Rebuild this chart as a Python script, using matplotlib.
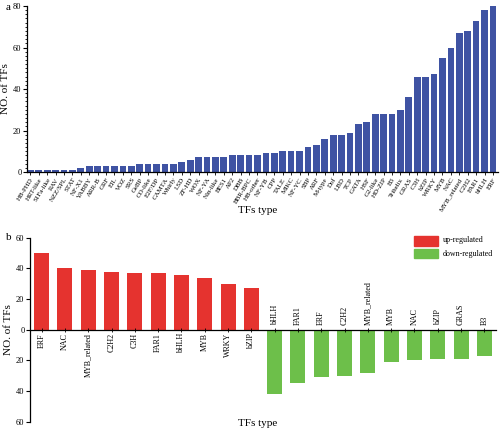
import matplotlib
matplotlib.use("Agg")
import matplotlib.pyplot as plt
from matplotlib.ticker import MultipleLocator, FuncFormatter
from matplotlib.patches import Rectangle

plt.rcParams["font.family"] = ["Liberation Serif", "DejaVu Serif"]

# panel a: number of TFs per family
tf_families = [
    "HB-PHD", "HRT-like", "S1Fa-like", "RAV", "NZZ/SPL", "STAT", "NF-X1", "YABBY",
    "ARR-B", "GRF", "EIL", "VOZ", "SRS", "GeBP", "CO-like", "E2F/DP", "CAMTA",
    "Whirly", "LSD", "ZF-HD", "WOX", "NF-YA", "Nin-like", "BES1", "AP2", "DBB",
    "BBR-BPC", "HB-other", "NF-YB", "CPP", "TALE", "MIKC", "NF-YC", "SBP", "ARF",
    "M-type", "Dof", "LBD", "TCP", "GATA", "HSF", "G2-like", "HD-ZIP", "B3",
    "Trihelix", "GRAS", "C3H", "bZIP", "WRKY", "MYB", "NAC", "MYB_related",
    "C2H2", "FAR1", "bHLH", "ERF",
]
tf_counts = [
    1, 1, 1, 1, 1, 1, 2, 3,
    3, 3, 3, 3, 3, 4, 4, 4, 4,
    4, 5, 6, 7, 7, 7, 7, 8, 8,
    8, 8, 9, 9, 10, 10, 10, 12, 13,
    16, 18, 18, 19, 23, 24, 28, 28, 28,
    30, 36, 46, 46, 47, 55, 60, 67,
    68, 73, 78, 80,
]

# panel b: up / down regulated
up_families = ["ERF", "NAC", "MYB_related", "C2H2", "C3H", "FAR1", "bHLH", "MYB", "WRKY", "bZIP"]
up_counts = [50, 40, 39, 38, 37, 37, 36, 34, 30, 27]
down_families = ["bHLH", "FAR1", "ERF", "C2H2", "MYB_related", "MYB", "NAC", "bZIP", "GRAS", "B3"]
down_counts = [42, 35, 31, 30, 28, 21, 20, 19, 19, 17]

blue = "#3F53A3"
red = "#E5332F"
green = "#6DBF4A"

fig = plt.figure(figsize=(5, 4.3), dpi=100)

# ---- panel a ----
ax1 = fig.add_axes([0.054, 0.600, 0.942, 0.386])
xa = list(range(len(tf_families)))
ax1.bar(xa, tf_counts, width=0.8, color=blue)
ax1.set_xlim(-0.4, len(tf_families) - 0.4)
ax1.set_ylim(0, 80)
ax1.yaxis.set_major_locator(MultipleLocator(20))
ax1.yaxis.set_minor_locator(MultipleLocator(2))
ax1.set_xticks(xa)
ax1.set_xticklabels(tf_families, rotation=58, ha="right", rotation_mode="anchor", fontsize=5.0)
ax1.tick_params(axis="x", length=2, width=0.6, pad=1.5)
ax1.tick_params(axis="y", which="major", length=3, width=0.8, labelsize=6, pad=1)
ax1.tick_params(axis="y", which="minor", length=1.5, width=0.6)
for s in ["top", "right"]:
    ax1.spines[s].set_visible(False)
ax1.spines["left"].set_linewidth(0.9)
ax1.spines["bottom"].set_linewidth(0.9)
ax1.set_ylabel("NO. of TFs", fontsize=8, labelpad=2)
fig.text(0.516, 0.511, "TFs type", fontsize=8, ha="center", va="center")
fig.text(0.012, 0.982, "a", fontsize=8, ha="left", va="center")

# ---- panel b ----
ax2 = fig.add_axes([0.060, 0.019, 0.932, 0.428])
n_up = len(up_families)
xu = list(range(n_up))
xd = list(range(n_up, n_up + len(down_families)))
ax2.bar(xu, up_counts, width=0.64, color=red)
ax2.bar(xd, [-v for v in down_counts], width=0.64, color=green)
ax2.set_xlim(-0.5, n_up + len(down_families) - 0.5)
ax2.set_ylim(-60, 60)
ax2.set_yticks([-60, -40, -20, 0, 20, 40, 60])
ax2.yaxis.set_major_formatter(FuncFormatter(lambda v, p: f"{abs(int(v))}"))
ax2.tick_params(axis="y", length=3, width=0.8, labelsize=6, pad=1)
ax2.set_xticks(xu + xd)
ax2.set_xticklabels([])
ax2.tick_params(axis="x", direction="inout", length=3, width=0.6)
for s in ["top", "right"]:
    ax2.spines[s].set_visible(False)
ax2.spines["bottom"].set_position(("data", 0))
ax2.spines["left"].set_linewidth(0.9)
ax2.spines["bottom"].set_linewidth(0.9)
for x, name in zip(xu, up_families):
    ax2.text(x, -2, name, rotation=90, ha="center", va="top", fontsize=5.8)
for x, name in zip(xd, down_families):
    ax2.text(x, 3, name, rotation=90, ha="center", va="bottom", fontsize=5.8)
ax2.set_ylabel("NO. of TFs", fontsize=8, labelpad=2)
fig.text(0.516, 0.016, "TFs type", fontsize=8, ha="center", va="center")
fig.text(0.012, 0.447, "b", fontsize=8, ha="left", va="center")

# legend boxes
fig.patches.append(Rectangle((0.828, 0.429), 0.047, 0.023, transform=fig.transFigure, color=red))
fig.patches.append(Rectangle((0.828, 0.399), 0.047, 0.021, transform=fig.transFigure, color=green))
fig.text(0.886, 0.441, "up-regulated", fontsize=5.8, ha="left", va="center")
fig.text(0.886, 0.409, "down-regulated", fontsize=5.8, ha="left", va="center")

fig.savefig("out.png", dpi=100)
